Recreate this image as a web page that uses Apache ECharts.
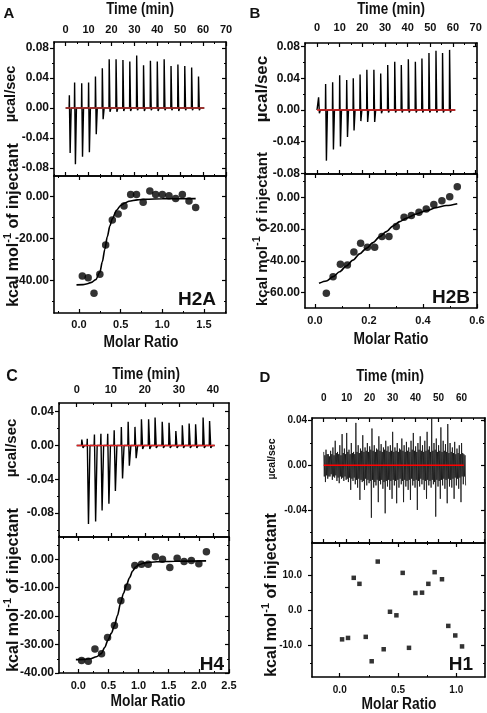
<!DOCTYPE html>
<html><head><meta charset="utf-8">
<script src="https://cdn.jsdelivr.net/npm/echarts@6/dist/echarts.min.js"></script>
<style>html,body{margin:0;padding:0;background:#fff}#c{width:487px;height:713px}</style>
</head><body><div id="c"></div>
<script>
// ---------- Panel A (H2A) ----------
const injTimeA = [1.6, 3.9, 7, 10, 13, 16, 19, 22, 25, 28, 31, 34, 37, 40, 43, 46, 49, 52, 55, 58];
const peakUpA = [0.017, 0.034, 0.033, 0.034, 0.042, 0.053, 0.065, 0.065, 0.064, 0.062, 0.070, 0.057, 0.063, 0.062, 0.065, 0.056, 0.058, 0.056, 0.054, 0.042];
const peakDownA = [-0.060, -0.075, -0.065, -0.059, -0.035, -0.015, -0.005, -0.005, -0.004, -0.004, -0.003, -0.004, -0.003, -0.004, -0.003, -0.003, -0.004, -0.003, -0.003, -0.003];
const ratioA = [0.04, 0.11, 0.18, 0.25, 0.32, 0.40, 0.47, 0.54, 0.62, 0.69, 0.77, 0.85, 0.92, 1.00, 1.08, 1.16, 1.24, 1.32, 1.40];
const heatA = [-37.8, -38.6, -46.0, -37.0, -23.0, -11.1, -8.3, -4.4, 1.1, 1.1, -2.7, 2.7, 1.1, 1.1, 0.5, -0.8, 1.1, -2.1, -5.1];
const fitXA = [-0.03, 0.05, 0.1, 0.15, 0.2, 0.25, 0.28, 0.31, 0.34, 0.37, 0.4, 0.45, 0.5, 0.55, 0.6, 0.7, 0.8, 1.0, 1.4];
const fitYA = [-42, -41.9, -41.5, -40.8, -39.5, -36, -31, -25, -19, -14, -10.5, -6.5, -4.2, -3, -2.2, -1.5, -1.2, -1.0, -0.9];

// ---------- Panel B (H2B) ----------
const injTimeB = [0.7, 3.8, 6.9, 10, 13.1, 16, 19, 22, 25.1, 28.1, 31.2, 34.3, 37.2, 40.3, 43.4, 46.3, 49.4, 52.5, 55.4, 58.5];
const peakUpB = [0.016, 0.033, 0.035, 0.044, 0.038, 0.040, 0.045, 0.051, 0.051, 0.046, 0.057, 0.061, 0.057, 0.064, 0.061, 0.065, 0.072, 0.075, 0.072, 0.076];
const peakDownB = [-0.004, -0.064, -0.050, -0.046, -0.034, -0.026, -0.014, -0.015, -0.015, -0.004, -0.003, -0.003, -0.003, -0.003, -0.003, -0.003, -0.003, -0.003, -0.003, -0.003];
const ratioB = [0.042, 0.067, 0.094, 0.12, 0.144, 0.169, 0.194, 0.221, 0.248, 0.274, 0.301, 0.33, 0.357, 0.385, 0.412, 0.44, 0.47, 0.499, 0.527];
const heatB = [-60.4, -49.9, -42.1, -42.6, -34.4, -28.9, -31.4, -31.4, -24.7, -24.7, -18.4, -12.6, -11.5, -9.4, -7.3, -4.6, -2.1, 0.4, 6.7];
const fitXB = [0.015, 0.042, 0.067, 0.091, 0.116, 0.141, 0.165, 0.19, 0.215, 0.24, 0.264, 0.289, 0.314, 0.338, 0.375, 0.412, 0.449, 0.486, 0.527];
const fitYB = [-54.1, -52.6, -49.9, -46.8, -43.2, -39.4, -35.6, -32.1, -28.5, -24.7, -21.6, -18.0, -15.3, -13.2, -10.5, -8.4, -6.5, -5.2, -4.0];

// ---------- Panel C (H4) ----------
const injTimeC = [1.5, 3.1, 5.2, 7.1, 9.1, 11, 13.1, 15.1, 17.1, 19, 21.1, 23, 25.1, 27.1, 29.1, 31, 33, 34.9, 37.1, 39];
const peakUpC = [0.007, 0.008, 0.013, 0.014, 0.014, 0.018, 0.022, 0.028, 0.022, 0.031, 0.031, 0.033, 0.028, 0.027, 0.017, 0.024, 0.026, 0.025, 0.033, 0.029];
const peakDownC = [-0.003, -0.093, -0.090, -0.077, -0.069, -0.054, -0.039, -0.024, -0.015, -0.004, -0.004, -0.003, -0.003, -0.003, -0.003, -0.003, -0.003, -0.003, -0.003, -0.003];
const ratioC = [0.055, 0.166, 0.276, 0.386, 0.486, 0.60, 0.706, 0.817, 0.938, 1.049, 1.159, 1.28, 1.396, 1.518, 1.64, 1.755, 1.876, 2.0, 2.125];
const heatC = [-35.6, -35.9, -31.6, -33.2, -27.5, -23.3, -14.6, -9.8, -2.2, -1.8, -1.8, 0.9, 0.0, -2.9, 0.35, -0.8, -0.5, -1.6, 2.6];
const fitXC = [-0.04, 0.1, 0.2, 0.3, 0.38, 0.44, 0.49, 0.55, 0.6, 0.65, 0.7, 0.75, 0.8, 0.85, 0.9, 0.95, 1.0, 1.1, 1.3, 1.6, 2.12];
const fitYC = [-35.3, -35.2, -35, -34.3, -33.2, -31, -28.5, -26, -23.3, -19.8, -15.5, -12, -9, -6.5, -4.2, -2.8, -2.0, -1.3, -0.9, -0.7, -0.6];

// ---------- Panel D (H1) ----------
// per-minute extremes (spikes) and the dense core of the noisy trace, minutes 0..61
const noiseHiD = [0.012, 0.014, 0.010, 0.013, 0.016, 0.022, 0.012, 0.018, 0.028, 0.015, 0.029, 0.014, 0.020, 0.012, 0.038, 0.018, 0.015, 0.027, 0.016, 0.020, 0.017, 0.033, 0.018, 0.015, 0.026, 0.019, 0.016, 0.022, 0.017, 0.018, 0.030, 0.016, 0.020, 0.015, 0.024, 0.018, 0.021, 0.016, 0.022, 0.029, 0.017, 0.020, 0.026, 0.018, 0.022, 0.030, 0.017, 0.042, 0.020, 0.024, 0.018, 0.034, 0.022, 0.019, 0.037, 0.020, 0.016, 0.021, 0.015, 0.018, 0.020, 0.010];
const noiseLoD = [-0.015, -0.012, -0.010, -0.013, -0.011, -0.014, -0.016, -0.012, -0.014, -0.013, -0.015, -0.022, -0.014, -0.017, -0.020, -0.031, -0.015, -0.022, -0.018, -0.016, -0.047, -0.020, -0.018, -0.033, -0.017, -0.021, -0.043, -0.019, -0.022, -0.030, -0.018, -0.034, -0.020, -0.017, -0.033, -0.019, -0.022, -0.031, -0.018, -0.020, -0.040, -0.019, -0.017, -0.022, -0.030, -0.018, -0.020, -0.017, -0.046, -0.019, -0.030, -0.018, -0.021, -0.034, -0.019, -0.020, -0.030, -0.018, -0.021, -0.033, -0.017, -0.018];
const coreHiD = [0.009, 0.010, 0.008, 0.010, 0.009, 0.011, 0.010, 0.009, 0.011, 0.010, 0.012, 0.010, 0.011, 0.010, 0.012, 0.011, 0.013, 0.012, 0.013, 0.012, 0.014, 0.013, 0.012, 0.014, 0.013, 0.012, 0.014, 0.013, 0.012, 0.013, 0.012, 0.013, 0.012, 0.014, 0.013, 0.012, 0.013, 0.012, 0.014, 0.013, 0.012, 0.014, 0.013, 0.012, 0.013, 0.014, 0.012, 0.013, 0.014, 0.012, 0.013, 0.012, 0.013, 0.012, 0.011, 0.012, 0.011, 0.010, 0.011, 0.010, 0.011, 0.009];
const coreLoD = [-0.010, -0.009, -0.010, -0.008, -0.010, -0.009, -0.011, -0.010, -0.011, -0.010, -0.012, -0.011, -0.012, -0.011, -0.013, -0.012, -0.013, -0.014, -0.012, -0.013, -0.014, -0.013, -0.015, -0.013, -0.014, -0.013, -0.015, -0.014, -0.013, -0.014, -0.013, -0.014, -0.013, -0.012, -0.014, -0.013, -0.014, -0.013, -0.012, -0.014, -0.013, -0.014, -0.012, -0.013, -0.014, -0.013, -0.014, -0.013, -0.015, -0.013, -0.014, -0.013, -0.012, -0.013, -0.012, -0.013, -0.012, -0.011, -0.012, -0.011, -0.010, -0.010];
const ratioD = [0.02, 0.071, 0.12, 0.169, 0.223, 0.274, 0.326, 0.377, 0.431, 0.486, 0.54, 0.594, 0.649, 0.706, 0.76, 0.814, 0.877, 0.931, 0.991, 1.049];
const heatD = [-8.2, -7.8, 9.2, 7.5, -7.5, -14.4, 13.8, -11.0, -0.4, -1.4, 10.6, -10.6, 4.9, 5.0, 7.5, 10.8, 8.8, -4.4, -7.1, -10.2];

// ---------- Tick values ----------
const timeTicks70 = [0, 10, 20, 30, 40, 50, 60, 70];
const timeTicks60 = [0, 10, 20, 30, 40, 50, 60];
const timeTicks40 = [0, 10, 20, 30, 40];

const FONT = '"Liberation Sans", Arial, Helvetica, sans-serif';
const xAxes = [], yAxes = [], grids = [], series = [];

function seq(a, b, s) { const r = []; for (let v = a; v <= b + s * 1e-6; v += s) r.push(+v.toFixed(6)); return r; }

function axis(list, gi, pos, range, major, minor, lab) {
  const inside = pos !== 'left';
  const base = { gridIndex: gi, type: 'value', position: pos, min: range[0], max: range[1], splitLine: { show: false }, axisPointer: { show: false } };
  const idx = list.length;
  list.push(Object.assign({}, base, {
    axisLine: { show: true, onZero: false, lineStyle: { color: '#000', width: 1.6 } },
    axisTick: { show: true, inside: inside, length: 4, customValues: major, lineStyle: { color: '#000', width: 1.2 } },
    axisLabel: lab ? { show: true, customValues: lab.values || major, formatter: v => Number(v).toFixed(lab.dec), margin: lab.margin,
      fontFamily: FONT, fontWeight: 'bold', fontSize: lab.size, color: '#111' } : { show: false }
  }));
  list.push(Object.assign({}, base, {
    axisLine: { show: false, onZero: false },
    axisTick: { show: true, inside: inside, length: 2, customValues: minor, lineStyle: { color: '#000', width: 1 } },
    axisLabel: { show: false }
  }));
  return idx;
}

function panel(box, xr, yr, xMaj, xMin, yMaj, yMin, xLab, yLab, side) {
  const gi = grids.length;
  grids.push({ left: box[0], top: box[1], width: box[2], height: box[3], containLabel: false, outerBoundsMode: 'none' });
  const xt = axis(xAxes, gi, 'top', xr, xMaj, xMin, side === 'top' ? xLab : null);
  const xb = axis(xAxes, gi, 'bottom', xr, xMaj, xMin, side === 'bottom' ? xLab : null);
  const yl = axis(yAxes, gi, 'left', yr, yMaj, yMin, yLab);
  axis(yAxes, gi, 'right', yr, yMaj, yMin, null);
  return { x: side === 'top' ? xt : xb, y: yl };
}

function trace(times, up, down, end) {
  const pts = [[0, 0]];
  times.forEach((t, i) => { pts.push([t - 0.1, 0], [t, up[i]], [t + 0.35, down[i]], [t + 0.8, 0]); });
  pts.push([end, 0]);
  return pts;
}
function pairs(xs, ys) { return xs.map((x, i) => [x, ys[i]]); }

function addThermo(p, data, end, red, lw, col) {
  series.push({ type: 'line', xAxisIndex: p.x, yAxisIndex: p.y, data: data, symbol: 'none', silent: true, animation: false,
    lineStyle: { color: col || '#000', width: lw }, z: 2 });
  series.push({ type: 'line', xAxisIndex: p.x, yAxisIndex: p.y, data: [[0, 0], [end, 0]], symbol: 'none', silent: true, animation: false,
    lineStyle: { color: red, width: 1.5 }, z: 3 });
}
function addIso(p, xs, ys, fx, fy, sym, size) {
  if (fx) series.push({ type: 'line', xAxisIndex: p.x, yAxisIndex: p.y, data: pairs(fx, fy), symbol: 'none', smooth: 0.3, smoothMonotone: 'x',
    silent: true, animation: false, lineStyle: { color: '#000', width: 1.6 }, z: 2 });
  series.push({ type: 'scatter', xAxisIndex: p.x, yAxisIndex: p.y, data: pairs(xs, ys), symbol: sym, symbolSize: size,
    itemStyle: { color: '#000' }, silent: true, animation: false, z: 3 });
}

// Panel A
const pAt = panel([54, 42, 172, 134], [-5.1, 70], [-0.0907, 0.088], timeTicks70, seq(-5, 70, 5),
  [-0.08, -0.04, 0, 0.04, 0.08], seq(-0.08, 0.08, 0.02), { dec: 0, margin: 7, size: 11 }, { dec: 2, margin: 5, size: 12 }, 'top');
addThermo(pAt, trace(injTimeA, peakUpA, peakDownA, 60.5), 60.5, '#b8302c', 1.4);
const pAb = panel([54, 176, 172, 137], [-0.3, 1.764], [-55.4, 9.86], [0, 0.5, 1, 1.5], seq(-0.25, 1.75, 0.25),
  [-40, -20, 0], seq(-50, 0, 10), { dec: 1, margin: 6, size: 11 }, { dec: 2, margin: 5, size: 12 }, 'bottom');
addIso(pAb, ratioA, heatA, fitXA, fitYA, 'circle', 7.5);

// Panel B
const pBt = panel([305, 43, 172, 131], [-5.3, 70.6], [-0.0809, 0.0847], timeTicks70, seq(-5, 70, 5),
  [-0.08, -0.04, 0, 0.04, 0.08], seq(-0.08, 0.08, 0.02), { dec: 0, margin: 10, size: 11 }, { dec: 2, margin: 5, size: 12 }, 'top');
addThermo(pBt, trace(injTimeB, peakUpB, peakDownB, 61), 61, '#e02020', 1.4);
const pBb = panel([305, 174, 172, 134], [-0.037, 0.6], [-69.6, 14.65], [0, 0.2, 0.4, 0.6], seq(0, 0.6, 0.1),
  [-60, -40, -20, 0], seq(-60, 10, 10), { dec: 1, margin: 7, size: 11 }, { dec: 2, margin: 5, size: 12 }, 'bottom');
addIso(pBb, ratioB, heatB, fitXB, fitYB, 'circle', 7.5);

// Panel C
const pCt = panel([59, 403, 170, 134], [-5.2, 44.7], [-0.1084, 0.0503], timeTicks40, seq(-5, 40, 5),
  [-0.08, -0.04, 0, 0.04], seq(-0.1, 0.04, 0.02), { dec: 0, margin: 8, size: 11 }, { dec: 2, margin: 5, size: 12 }, 'top');
addThermo(pCt, trace(injTimeC, peakUpC, peakDownC, 40.5), 40.5, '#e02020', 1.4);
const pCb = panel([59, 537, 170, 136], [-0.32, 2.5], [-40, 7.8], [0, 0.5, 1, 1.5, 2, 2.5], seq(-0.25, 2.5, 0.25),
  [-40, -30, -20, -10, 0], seq(-40, 5, 5), { dec: 1, margin: 7, size: 11 }, { dec: 2, margin: 5, size: 12 }, 'bottom');
addIso(pCb, ratioC, heatC, fitXC, fitYC, 'circle', 7.5);

// Panel D
const pDt = panel([312, 418, 173, 125], [-5.1, 70.2], [-0.0696, 0.0424], timeTicks70, seq(-5, 70, 5),
  [-0.04, 0, 0.04], seq(-0.06, 0.04, 0.02), { dec: 0, margin: 15, size: 10, values: timeTicks60 }, { dec: 2, margin: 5, size: 10 }, 'top');
const traceD = [];
noiseHiD.forEach((h, i) => { traceD.push([i, h], [i + 0.25, coreLoD[i]], [i + 0.5, coreHiD[i]], [i + 0.75, noiseLoD[i]]); });
addThermo(pDt, traceD, 61, '#ff0000', 0.8, '#111');
const pDb = panel([312, 543, 173, 134], [-0.238, 1.246], [-18.85, 19.05], [0, 0.5, 1], seq(-0.25, 1.25, 0.25),
  [-10, 0, 10], seq(-15, 15, 5), { dec: 1, margin: 8, size: 10 }, { dec: 1, margin: 10, size: 10 }, 'bottom');
addIso(pDb, ratioD, heatD, null, null, 'rect', 4.5);

// ---------- Texts ----------
const graphics = [];
function txt(x, y, s, size, rot, sx) {
  graphics.push({ type: 'text', x: x, y: y, rotation: rot || 0, scaleX: sx || 1, silent: true,
    style: { text: s, fontSize: size, fontWeight: 'bold', fontFamily: FONT, fill: '#111', align: 'center', verticalAlign: 'middle' } });
}
function kcal(x, y, size) {
  graphics.push({ type: 'text', x: x, y: y, rotation: Math.PI / 2, silent: true,
    style: { text: '{a|kcal mol}{s|-1}{a| of injectant}', align: 'center', verticalAlign: 'middle',
      rich: { a: { fontSize: size, fontWeight: 'bold', fontFamily: FONT, fill: '#111', lineHeight: size + 4, verticalAlign: 'bottom' },
              s: { fontSize: Math.round(size * 0.7), fontWeight: 'bold', fontFamily: FONT, fill: '#111', lineHeight: size + 4, verticalAlign: 'top' } } } });
}
const R = Math.PI / 2;
txt(9, 14, 'A', 15); txt(255, 14, 'B', 15); txt(12, 377, 'C', 16); txt(265, 378, 'D', 15);
txt(140, 10, 'Time (min)', 16, 0, 0.84); txt(391, 10, 'Time (min)', 16, 0, 0.84); txt(146, 375, 'Time (min)', 16, 0, 0.84); txt(390, 377, 'Time (min)', 16, 0, 0.84);
txt(11, 94, 'µcal/sec', 14.5, R); txt(262, 89, 'µcal/sec', 17, R); txt(12, 448, 'µcal/sec', 15, R); txt(272, 459, 'µcal/sec', 10.5, R);
kcal(12, 225, 16); kcal(261, 229, 15); kcal(12, 590, 16); kcal(270, 595, 16);
txt(141, 343, 'Molar Ratio', 16, 0, 0.86); txt(391, 340, 'Molar Ratio', 16, 0, 0.86); txt(148, 702, 'Molar Ratio', 16, 0, 0.86); txt(399, 705, 'Molar Ratio', 16, 0, 0.86);
txt(197, 300, 'H2A', 19); txt(451, 298, 'H2B', 19); txt(212, 665, 'H4', 19); txt(461, 665, 'H1', 19);

const chart = echarts.init(document.getElementById('c'), null, { renderer: 'canvas' });
chart.setOption({
  animation: false,
  backgroundColor: '#fff',
  grid: grids,
  xAxis: xAxes,
  yAxis: yAxes,
  series: series,
  graphic: graphics
});
</script></body></html>
